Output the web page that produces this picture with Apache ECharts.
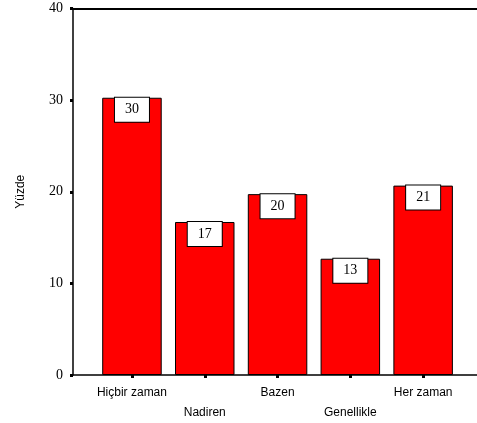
<!DOCTYPE html>
<html>
<head>
    <meta charset="utf-8">
    <script src="https://cdn.jsdelivr.net/npm/echarts@6/dist/echarts.min.js"></script>
    <style>
        html, body { margin: 0; padding: 0; background: #fff; }
    </style>
</head>
<body>
<div id="myChart" style="width: 477px; height: 423px;"></div>

<script type="text/javascript">
    var chart = echarts.init(document.getElementById('myChart'));

    var categories = ['Hiçbir zaman', 'Nadiren', 'Bazen', 'Genellikle', 'Her zaman'];
    var values = [30.26, 16.7, 19.74, 12.69, 20.67];
    var barLabels = ['30', '17', '20', '13', '21'];
    var yTicks = [0, 10, 20, 30, 40];

    // bar positions on a numeric x axis (1..n)
    var positions = categories.map(function (c, i) { return i + 1; });
    var data = values.map(function (v, i) { return [positions[i], v]; });

    var option = {
        animation: false,
        grid: {
            left: 73,
            right: 0,
            top: 8.5,
            bottom: 45.7
        },
        xAxis: [{
            type: 'value',
            min: 0.19,
            max: 5.74,
            splitLine: { show: false },
            axisLine: {
                onZero: false,
                lineStyle: { color: '#000', width: 1.5 }
            },
            axisTick: {
                show: true,
                customValues: positions,
                length: 3,
                lineStyle: { color: '#000', width: 3 }
            },
            axisLabel: {
                customValues: positions,
                margin: 8,
                color: '#000',
                fontFamily: 'Liberation Sans, Arial, sans-serif',
                fontSize: 12,
                lineHeight: 20,
                formatter: function (val) {
                    var i = Math.round(val) - 1;
                    return i % 2 === 0 ? categories[i] : '\n' + categories[i];
                }
            }
        }, {
            // top frame line
            type: 'value',
            position: 'top',
            min: 0.19,
            max: 5.74,
            splitLine: { show: false },
            axisLine: {
                show: true,
                onZero: false,
                lineStyle: { color: '#000', width: 2 }
            },
            axisTick: { show: false },
            axisLabel: { show: false }
        }],
        yAxis: {
            type: 'value',
            min: yTicks[0],
            max: yTicks[yTicks.length - 1],
            interval: 10,
            name: 'Yüzde',
            nameLocation: 'middle',
            nameGap: 46,
            nameTextStyle: {
                color: '#000',
                fontFamily: 'Liberation Sans, Arial, sans-serif',
                fontSize: 12
            },
            splitLine: { show: false },
            axisLine: {
                show: true,
                onZero: false,
                lineStyle: { color: '#000', width: 1.5 }
            },
            axisTick: {
                show: true,
                length: 3,
                lineStyle: { color: '#000', width: 3 }
            },
            axisLabel: {
                margin: 10,
                color: '#000',
                fontFamily: 'Liberation Serif, Times New Roman, serif',
                fontSize: 14
            }
        },
        series: [{
            type: 'bar',
            data: data,
            barWidth: 59.5,
            itemStyle: {
                color: '#ff0000',
                borderColor: '#000',
                borderWidth: 1
            },
            label: {
                show: true,
                position: 'insideTop',
                distance: 0,
                formatter: function (p) { return barLabels[p.dataIndex]; },
                color: '#000',
                fontFamily: 'Liberation Serif, Times New Roman, serif',
                fontSize: 14,
                lineHeight: 14,
                backgroundColor: '#fff',
                borderColor: '#000',
                borderWidth: 1,
                padding: [5, 10]
            }
        }]
    };

    chart.setOption(option, true);
</script>
</body>
</html>
